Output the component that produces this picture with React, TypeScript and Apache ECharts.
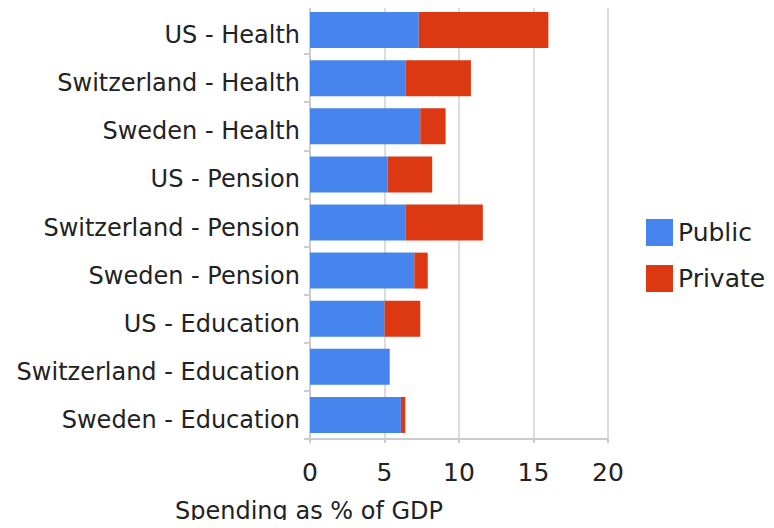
import React, { useEffect, useRef } from "react";
import * as echarts from "echarts";

const categories = [
  "US - Health",
  "Switzerland - Health",
  "Sweden - Health",
  "US - Pension",
  "Switzerland - Pension",
  "Sweden - Pension",
  "US - Education",
  "Switzerland - Education",
  "Sweden - Education",
];
const publicValues = [7.3, 6.4, 7.4, 5.2, 6.4, 7.0, 5.0, 5.35, 6.1];
const privateValues = [8.7, 4.4, 1.7, 3.0, 5.2, 0.9, 2.4, 0, 0.3];
const xTicks = [0, 5, 10, 15, 20];
const axisTitle = "Spending as % of GDP";

export default function App() {
  const ref = useRef<HTMLDivElement>(null);
  useEffect(() => {
    if (!ref.current) return;
    const chart = echarts.init(ref.current, null, { renderer: "svg" });
    const font = "DejaVu Sans";
    chart.setOption({
      animation: false,
      textStyle: { fontFamily: font },
      grid: {
        left: 310,
        right: 166,
        top: 6,
        bottom: 89,
        show: true,
        borderColor: "#dcdcdc",
        borderWidth: 2,
      },
      legend: {
        orient: "vertical",
        left: 646,
        top: 219,
        padding: 0,
        itemWidth: 27,
        itemHeight: 27,
        itemGap: 19,
        icon: "rect",
        textStyle: { fontSize: 25, color: "#222", fontFamily: font },
        data: ["Public", "Private"],
      },
      xAxis: {
        type: "value",
        min: xTicks[0],
        max: xTicks[xTicks.length - 1],
        interval: 5,
        axisLine: { show: true, lineStyle: { color: "#cccccc", width: 2 } },
        axisTick: { show: true, length: 4, lineStyle: { color: "#cccccc", width: 2 } },
        splitLine: { show: true, lineStyle: { color: "#dcdcdc", width: 2 } },
        axisLabel: { fontSize: 25, color: "#222", margin: 21, fontFamily: font },
      },
      yAxis: {
        type: "category",
        data: categories,
        inverse: true,
        axisLine: { show: true, lineStyle: { color: "#cccccc", width: 2 } },
        axisTick: { show: true, length: 6, lineStyle: { color: "#cccccc", width: 2 } },
        axisLabel: {
          fontSize: 24,
          color: "#222",
          margin: 10,
          verticalAlign: "top",
          lineHeight: 10,
          fontFamily: font,
        },
      },
      graphic: [
        {
          type: "text",
          left: 175,
          top: 499,
          style: { text: axisTitle, fontSize: 24, fill: "#222", fontFamily: font },
        },
      ],
      series: [
        {
          name: "Public",
          type: "bar",
          stack: "total",
          barWidth: 36,
          itemStyle: { color: "#4684EE" },
          data: publicValues,
        },
        {
          name: "Private",
          type: "bar",
          stack: "total",
          barWidth: 36,
          itemStyle: { color: "#DC3912" },
          data: privateValues,
        },
      ],
    });
    return () => chart.dispose();
  }, []);
  return <div ref={ref} style={{ width: 774, height: 528, margin: -8 }} />;
}
